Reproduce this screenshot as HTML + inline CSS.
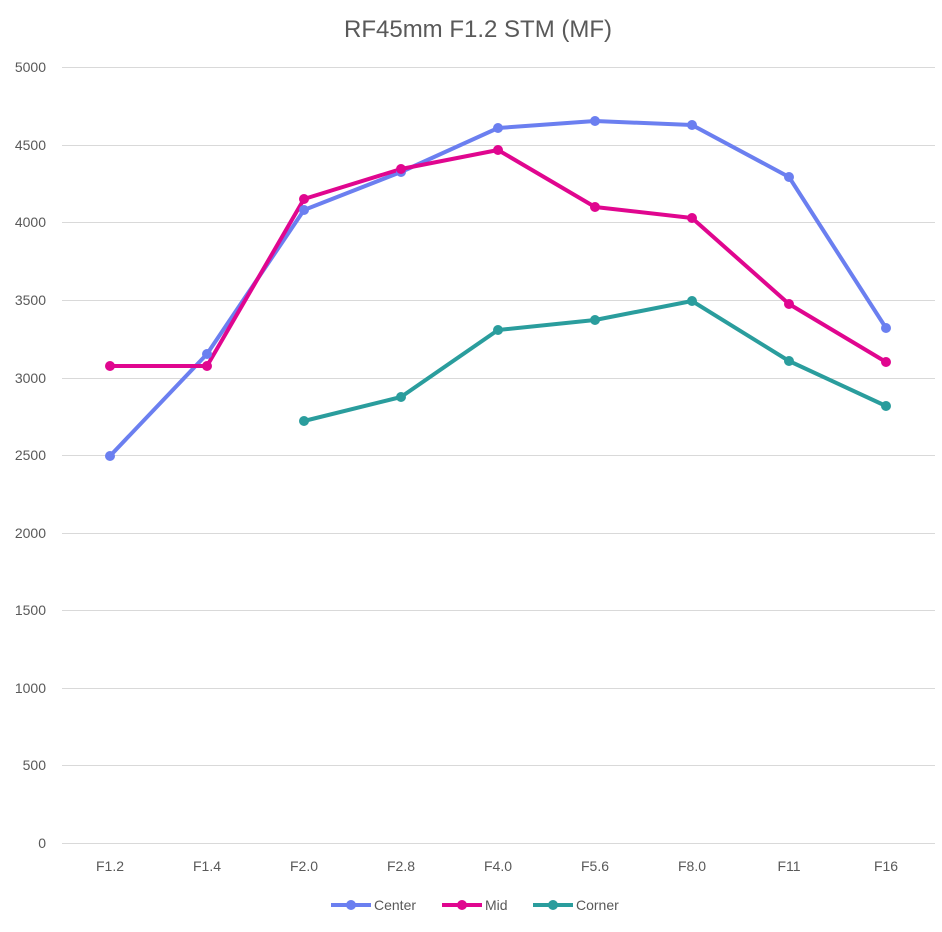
<!DOCTYPE html>
<html><head><meta charset="utf-8"><style>
body{margin:0;background:#fff;}
svg text{font-family:"Liberation Sans",sans-serif;fill:#595959;}
</style></head><body>
<svg width="942" height="927" xmlns="http://www.w3.org/2000/svg">
<rect width="942" height="927" fill="#fff"/>
<text x="478" y="37" font-size="24" text-anchor="middle">RF45mm F1.2 STM (MF)</text>
<g stroke="#d9d9d9" stroke-width="1">
<line x1="62" x2="935" y1="67.5" y2="67.5"/><line x1="62" x2="935" y1="145.5" y2="145.5"/>
<line x1="62" x2="935" y1="222.5" y2="222.5"/><line x1="62" x2="935" y1="300.5" y2="300.5"/>
<line x1="62" x2="935" y1="378.5" y2="378.5"/><line x1="62" x2="935" y1="455.5" y2="455.5"/>
<line x1="62" x2="935" y1="533.5" y2="533.5"/><line x1="62" x2="935" y1="610.5" y2="610.5"/>
<line x1="62" x2="935" y1="688.5" y2="688.5"/><line x1="62" x2="935" y1="765.5" y2="765.5"/>
<line x1="62" x2="935" y1="843.5" y2="843.5"/>
</g>
<g font-size="14" text-anchor="end">
<text x="46" y="72">5000</text><text x="46" y="150">4500</text><text x="46" y="227">4000</text>
<text x="46" y="305">3500</text><text x="46" y="383">3000</text><text x="46" y="460">2500</text>
<text x="46" y="538">2000</text><text x="46" y="615">1500</text><text x="46" y="693">1000</text>
<text x="46" y="770">500</text><text x="46" y="848">0</text>
</g>
<g font-size="14" text-anchor="middle">
<text x="110" y="871">F1.2</text><text x="207" y="871">F1.4</text><text x="304" y="871">F2.0</text>
<text x="401" y="871">F2.8</text><text x="498" y="871">F4.0</text><text x="595" y="871">F5.6</text>
<text x="692" y="871">F8.0</text><text x="789" y="871">F11</text><text x="886" y="871">F16</text>
</g>
<g fill="none" stroke-width="4" stroke-linejoin="round">
<polyline stroke="#6b7ff0" points="110,456 207,354 304,210 401,172 498,128 595,121 692,125 789,177 886,328"/>
<polyline stroke="#e0068f" points="110,366 207,366 304,199 401,169 498,150 595,207 692,218 789,304 886,362"/>
<polyline stroke="#2a9d9d" points="304,421 401,397 498,330 595,320 692,301 789,361 886,406"/>
</g>
<g fill="#6b7ff0"><circle cx="110" cy="456" r="5"/><circle cx="207" cy="354" r="5"/><circle cx="304" cy="210" r="5"/><circle cx="401" cy="172" r="5"/><circle cx="498" cy="128" r="5"/><circle cx="595" cy="121" r="5"/><circle cx="692" cy="125" r="5"/><circle cx="789" cy="177" r="5"/><circle cx="886" cy="328" r="5"/></g>
<g fill="#e0068f"><circle cx="110" cy="366" r="5"/><circle cx="207" cy="366" r="5"/><circle cx="304" cy="199" r="5"/><circle cx="401" cy="169" r="5"/><circle cx="498" cy="150" r="5"/><circle cx="595" cy="207" r="5"/><circle cx="692" cy="218" r="5"/><circle cx="789" cy="304" r="5"/><circle cx="886" cy="362" r="5"/></g>
<g fill="#2a9d9d"><circle cx="304" cy="421" r="5"/><circle cx="401" cy="397" r="5"/><circle cx="498" cy="330" r="5"/><circle cx="595" cy="320" r="5"/><circle cx="692" cy="301" r="5"/><circle cx="789" cy="361" r="5"/><circle cx="886" cy="406" r="5"/></g>
<g font-size="14">
<line x1="331" x2="371" y1="905" y2="905" stroke="#6b7ff0" stroke-width="4"/><circle cx="351" cy="905" r="5" fill="#6b7ff0"/><text x="374" y="910">Center</text>
<line x1="442" x2="482" y1="905" y2="905" stroke="#e0068f" stroke-width="4"/><circle cx="462" cy="905" r="5" fill="#e0068f"/><text x="485" y="910">Mid</text>
<line x1="533" x2="573" y1="905" y2="905" stroke="#2a9d9d" stroke-width="4"/><circle cx="553" cy="905" r="5" fill="#2a9d9d"/><text x="576" y="910">Corner</text>
</g>
</svg>
</body></html>
